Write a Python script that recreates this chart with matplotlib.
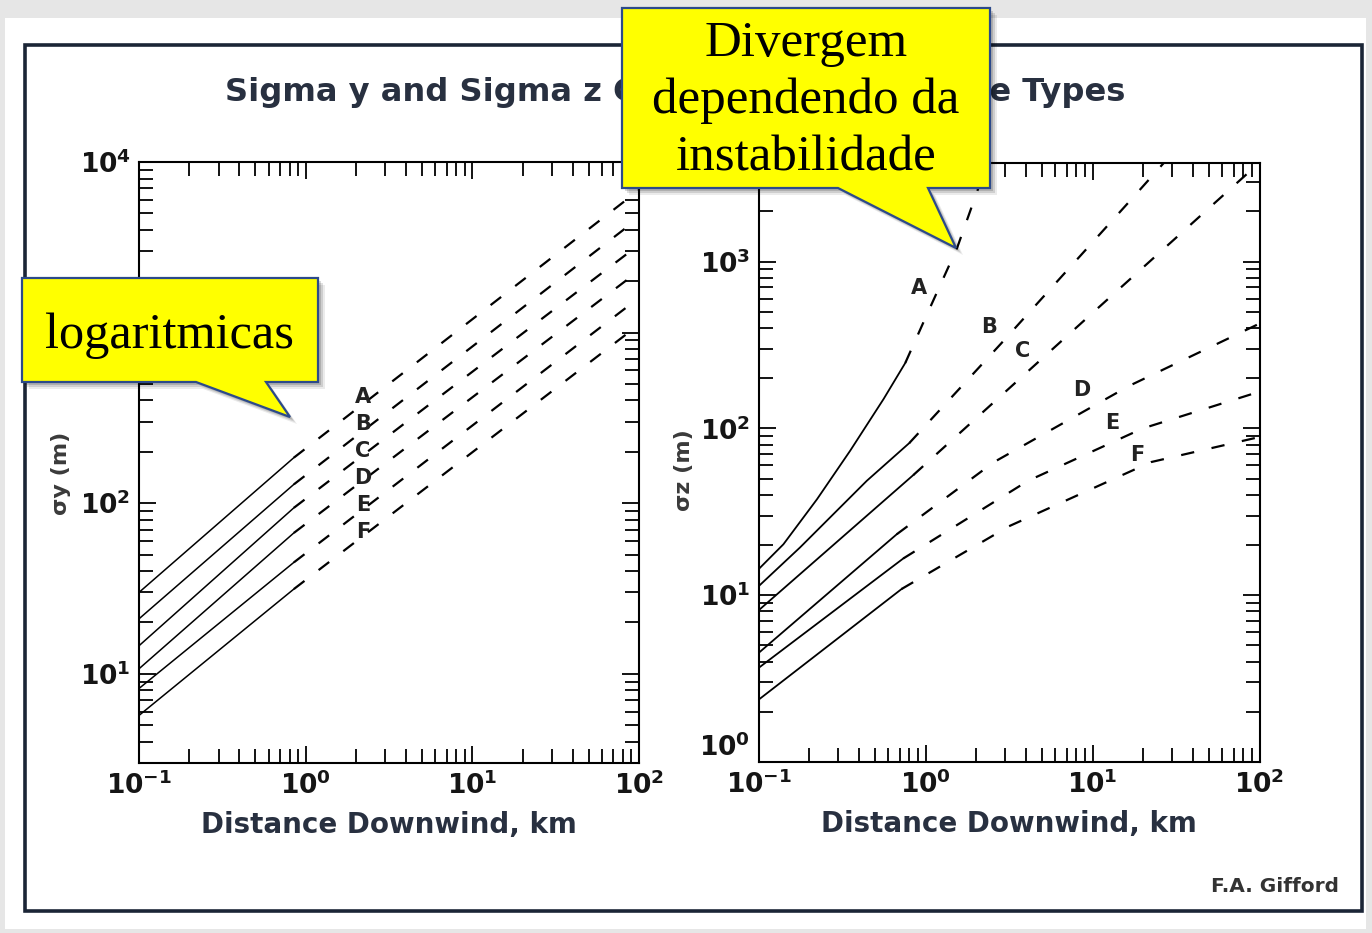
import matplotlib
matplotlib.use('Agg')
import matplotlib.pyplot as plt
from matplotlib.patches import Polygon, Rectangle
from matplotlib.ticker import LogLocator, NullFormatter

# stability classes and axis ticks
stability = ['A', 'B', 'C', 'D', 'E', 'F']
x_ticks = [0.1, 1, 10, 100]
x_tick_labels = [r'$\mathbf{10^{-1}}$', r'$\mathbf{10^{0}}$', r'$\mathbf{10^{1}}$', r'$\mathbf{10^{2}}$']
sy_ticks = [10, 100, 1000, 10000]
sy_tick_labels = [r'$\mathbf{10^{1}}$', r'$\mathbf{10^{2}}$', r'$\mathbf{10^{3}}$', r'$\mathbf{10^{4}}$']
sz_ticks = [1, 10, 100, 1000]
sz_tick_labels = [r'$\mathbf{10^{0}}$', r'$\mathbf{10^{1}}$', r'$\mathbf{10^{2}}$', r'$\mathbf{10^{3}}$']

# sigma y (m) vs distance (km): measured part (solid) and extrapolation (dashed)
sy_x_solid = [0.1, 0.85]
sy_x_dashed = [0.85, 100]
sy_solid = [[30, 185], [21, 129], [14.6, 94], [10.7, 67], [8.2, 45], [5.7, 31.4]]
sy_dashed = [[185, 6850], [129, 4710], [94, 3275], [67, 2305], [45, 1600], [31.4, 1115]]
sy_label_x = [2.21, 2.21, 2.21, 2.21, 2.21, 2.21]
sy_label_y = [421, 292, 203, 141, 98, 68]

# sigma z (m) vs distance (km)
sz_solid_x = [[0.1, 0.141, 0.224, 0.354, 0.561, 0.757],
              [0.1, 0.177, 0.445, 0.80],
              [0.1, 0.845],
              [0.1, 0.673],
              [0.1, 0.736],
              [0.1, 0.72]]
sz_solid_y = [[14.3, 20.2, 37.6, 73.5, 150, 247],
              [11.3, 19.3, 48.5, 81.7],
              [8.1, 52.5],
              [4.5, 23.2],
              [3.66, 16.6],
              [2.36, 10.9]]
sz_dashed_x = [[0.757, 1.0, 1.55, 2.37],
               [0.80, 2.83, 17.2, 27.5],
               [0.845, 9.46, 100],
               [0.673, 2.57, 16.6, 100],
               [0.736, 4.11, 19.9, 100],
               [0.72, 3.16, 22.4, 100]]
sz_dashed_y = [[247, 461, 1216, 4030],
               [81.7, 322, 2380, 4030],
               [52.5, 468, 3920],
               [23.2, 62.8, 180, 425],
               [16.6, 48.5, 99.8, 166],
               [10.9, 25.9, 62.8, 88.8]]
sz_label_x = [0.914, 2.40, 3.84, 8.65, 13.1, 18.5]
sz_label_y = [699, 407, 292, 170, 108, 69]

W, H = 1372, 933
INK = '#283040'
NAVY = '#2c4a8a'
SERIF = 'Liberation Serif'


def style_axes(ax, ylim, yticks, ylabels):
    ax.set_xscale('log')
    ax.set_yscale('log')
    ax.set_xlim(0.1, 100)
    ax.set_ylim(*ylim)
    ax.set_xticks(x_ticks, x_tick_labels)
    ax.set_yticks(yticks, ylabels)
    ax.xaxis.set_minor_locator(LogLocator(base=10, subs=range(2, 10), numticks=50))
    ax.yaxis.set_minor_locator(LogLocator(base=10, subs=range(2, 10), numticks=50))
    ax.xaxis.set_minor_formatter(NullFormatter())
    ax.yaxis.set_minor_formatter(NullFormatter())
    ax.tick_params(which='both', direction='in', top=True, right=True, width=1.3,
                   colors='black', labelcolor='#151515')
    ax.tick_params(which='major', length=12, labelsize=19, pad=6)
    ax.tick_params(which='minor', length=10)
    for sp in ax.spines.values():
        sp.set_linewidth(1.5)


def callout(ax, pts):
    # soft drop shadow then the yellow balloon
    for off, a in [(7, 0.08), (5, 0.12), (3, 0.15)]:
        ax.add_patch(Polygon([(x + off, y + off) for x, y in pts], closed=True,
                             facecolor='black', edgecolor='none', alpha=a))
    ax.add_patch(Polygon(pts, closed=True, facecolor='#ffff00', edgecolor=NAVY, lw=1.6))


fig = plt.figure(figsize=(W / 100, H / 100), dpi=100, facecolor='#e6e6e6')

bg = fig.add_axes([0, 0, 1, 1], zorder=-2)
bg.set_xlim(0, W)
bg.set_ylim(H, 0)
bg.axis('off')
bg.add_patch(Rectangle((5, 18), 1361, 911, facecolor='white', edgecolor='none'))

ax_y = fig.add_axes([139 / W, 1 - 763 / H, 500 / W, 601 / H])
ax_z = fig.add_axes([758.5 / W, 1 - 762 / H, 501 / W, 599 / H])
style_axes(ax_y, (3, 1e4), sy_ticks, sy_tick_labels)
style_axes(ax_z, (1, 3900), sz_ticks, sz_tick_labels)
# keep the 10^0 label clear of the x tick labels
ax_z.get_yticklabels()[0].set_verticalalignment('bottom')

for i, s in enumerate(stability):
    ax_y.plot(sy_x_solid, sy_solid[i], color='black', lw=1.1)
    ax_y.plot(sy_x_dashed, sy_dashed[i], color='black', lw=1.6, dashes=(6, 8))
    ax_y.text(sy_label_x[i], sy_label_y[i], s, ha='center', va='center',
              fontsize=15, fontweight='bold', color='#222222')

    ax_z.plot(sz_solid_x[i], sz_solid_y[i], color='black', lw=1.3)
    ax_z.plot(sz_dashed_x[i], sz_dashed_y[i], color='black', lw=1.6, dashes=(6, 8))
    ax_z.text(sz_label_x[i], sz_label_y[i], s, ha='center', va='center',
              fontsize=15, fontweight='bold', color='#222222')

for ax, lab, xf, yf in [(ax_y, 'σy (m)', -0.156, 0.4825), (ax_z, 'σz (m)', -0.148, 0.4875)]:
    ax.text(xf, yf, lab, transform=ax.transAxes, rotation=90, ha='center', va='center',
            fontsize=16, fontweight='bold', color='#3a3a3a')
    ax.text(0.5, -0.103, 'Distance Downwind, km', transform=ax.transAxes,
            ha='center', va='center', fontsize=20, fontweight='bold', color=INK)

fig.text(675 / W, 1 - 92 / H, 'Sigma y and Sigma z Curves for Turbulence Types',
         ha='center', va='center', fontsize=23.1, fontweight='bold', color=INK)
fig.text(1275 / W, 1 - 887 / H, 'F.A. Gifford', ha='center', va='center',
         fontsize=14.5, fontweight='bold', color='#333333')

ov = fig.add_axes([0, 0, 1, 1], zorder=5)
ov.set_xlim(0, W)
ov.set_ylim(H, 0)
ov.axis('off')
ov.patch.set_alpha(0)

# frame around the whole chart
ov.add_patch(Rectangle((25, 45), 1337, 866, facecolor='none', edgecolor='#1b2536', lw=2.6))

callout(ov, [(22, 278), (318, 278), (318, 382), (266, 382), (290, 417), (196, 382), (22, 382)])
ov.text(170, 336, 'logaritmicas', ha='center', va='center', fontsize=36.3,
        family=SERIF, color='black')

callout(ov, [(622, 8), (990, 8), (990, 188), (928, 188), (956, 248), (838, 188), (622, 188)])
ov.text(806, 101, 'Divergem\ndependendo da\ninstabilidade', ha='center', va='center',
        multialignment='center', fontsize=36.7, linespacing=1.29,
        family=SERIF, color='black')

fig.savefig('out.png', dpi=100, facecolor=fig.get_facecolor())
